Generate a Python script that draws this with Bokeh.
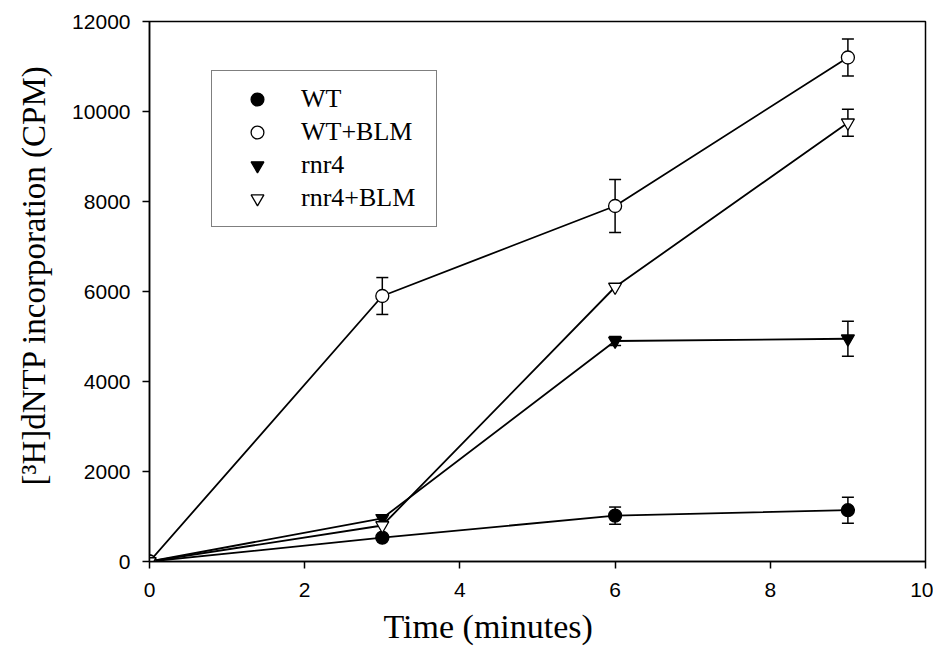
from bokeh.plotting import figure
from bokeh.models import (ColumnDataSource, Whisker, TeeHead, Legend, LegendItem,
                          Range1d, FixedTicker, Title)
from bokeh.embed import file_html
from bokeh.resources import INLINE

# ---- data ----
time = [0, 3, 6, 9]
wt = [0, 530, 1020, 1140]
wt_err = [0, 0, 190, 290]
wt_blm = [0, 5900, 7900, 11200]
wt_blm_err = [0, 410, 590, 410]
rnr4 = [0, 960, 4900, 4950]
rnr4_err = [0, 0, 100, 390]
rnr4_blm = [0, 800, 6100, 9750]
rnr4_blm_err = [0, 0, 0, 300]
series_names = ["WT", "WT+BLM", "rnr4", "rnr4+BLM"]
x_ticks = [0, 2, 4, 6, 8, 10]
y_ticks = [0, 2000, 4000, 6000, 8000, 10000, 12000]
x_label = "Time (minutes)"
y_label = "[\u00b3H]dNTP incorporation (CPM)"

p = figure(width=933, height=657, x_range=Range1d(0, 10), y_range=Range1d(0, 12000),
           output_backend="svg", toolbar_location=None,
           min_border_left=149, min_border_right=8, min_border_top=21,
           min_border_bottom=96)

p.xgrid.visible = False
p.ygrid.visible = False
p.outline_line_color = "black"
p.outline_line_width = 1.5
p.background_fill_color = "white"
p.border_fill_color = "white"

for ax in (p.xaxis[0], p.yaxis[0]):
    ax.major_tick_in = 0
    ax.major_tick_out = 7
    ax.minor_tick_line_color = None
    ax.axis_line_width = 1.5
    ax.major_tick_line_width = 1.5
    ax.major_label_text_font = "Liberation Sans"
    ax.major_label_text_font_size = "21px"
    ax.major_label_text_color = "black"

p.xaxis.ticker = FixedTicker(ticks=x_ticks)
p.yaxis.ticker = FixedTicker(ticks=y_ticks)
p.xaxis.major_label_standoff = 14
p.yaxis.major_label_standoff = 12

# axis titles placed off-centre like the reference
xt = Title(text=x_label, align="left", offset=234, vertical_align="bottom",
           text_font="Liberation Serif", text_font_size="34px",
           text_font_style="normal", text_color="black", standoff=13)
p.add_layout(xt, "below")
yt = Title(text=y_label, align="left", offset=76, vertical_align="top",
           text_font="Liberation Serif", text_font_size="33px",
           text_font_style="normal", text_color="black", standoff=31)
p.add_layout(yt, "left")

specs = [
    (wt, wt_err, "circle", "black"),
    (wt_blm, wt_blm_err, "circle", "white"),
    (rnr4, rnr4_err, "inverted_triangle", "black"),
    (rnr4_blm, rnr4_blm_err, "inverted_triangle", "white"),
]

# lines
for ys, errs, marker, fill in specs:
    p.line(time, ys, line_color="black", line_width=1.8)

# error bars
for ys, errs, marker, fill in specs:
    xs = [t for t, e in zip(time, errs) if e > 0]
    up = [y + e for y, e in zip(ys, errs) if e > 0]
    lo = [y - e for y, e in zip(ys, errs) if e > 0]
    if xs:
        src = ColumnDataSource(dict(x=xs, upper=up, lower=lo))
        w = Whisker(source=src, base="x", upper="upper", lower="lower",
                    line_color="black", line_width=1.5,
                    upper_head=TeeHead(size=12, line_color="black", line_width=1.5),
                    lower_head=TeeHead(size=12, line_color="black", line_width=1.5))
        p.add_layout(w)

# markers
renderers = []
for ys, errs, marker, fill in specs:
    r = p.scatter(time, ys, marker=marker, size=13, fill_color=fill,
                  line_color="black", line_width=1.3)
    renderers.append(r)

legend = Legend(items=[LegendItem(label=n, renderers=[r]) for n, r in zip(series_names, renderers)],
                location=(62, 334), orientation="vertical",
                label_text_font="Liberation Serif", label_text_font_size="26px",
                label_text_color="black",
                glyph_width=66, glyph_height=32, label_height=32, label_width=123,
                spacing=1, padding=12, label_standoff=11, margin=0,
                border_line_color="black", border_line_width=1.5,
                background_fill_color="white", background_fill_alpha=1.0)
p.add_layout(legend)

open("out.html", "w").write(file_html(p, INLINE))
